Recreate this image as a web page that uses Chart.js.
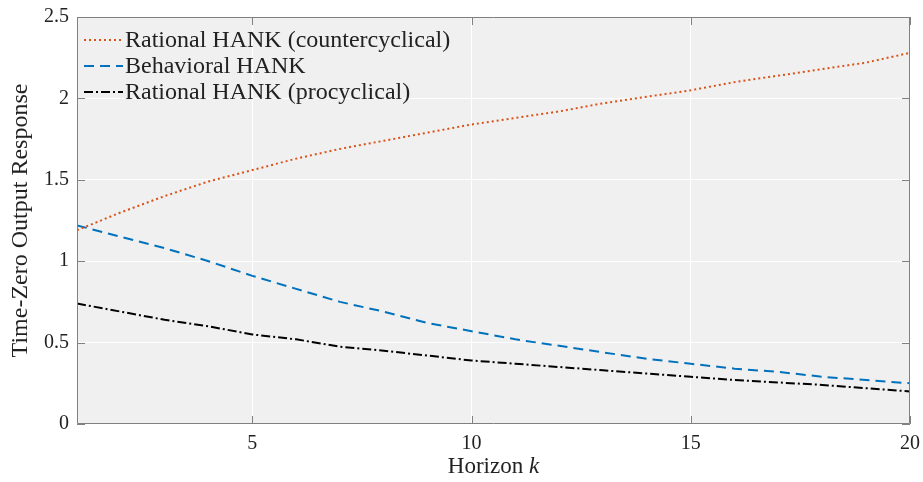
<!DOCTYPE html>
<html>
<head>
<meta charset="utf-8">
<script src="https://cdn.jsdelivr.net/npm/chart.js@4/dist/chart.umd.min.js"></script>
<style>
  html, body { margin: 0; padding: 0; background: #fff; }
  #wrap { width: 923px; height: 482px; }
</style>
</head>
<body>
<div id="wrap"><canvas id="chart"></canvas></div>
<script>
// horizons k = 1..20
const horizons = [1, 2, 3, 4, 5, 6, 7, 8, 9, 10, 11, 12, 13, 14, 15, 16, 17, 18, 19, 20];
const counterVals = [1.19, 1.30, 1.40, 1.49, 1.56, 1.63, 1.69, 1.74, 1.79, 1.84, 1.88, 1.92, 1.97, 2.01, 2.05, 2.10, 2.14, 2.18, 2.22, 2.28];
const behavVals = [1.22, 1.15, 1.08, 1.00, 0.91, 0.83, 0.75, 0.69, 0.62, 0.57, 0.52, 0.48, 0.44, 0.40, 0.37, 0.34, 0.32, 0.29, 0.27, 0.25];
const procVals = [0.74, 0.69, 0.64, 0.60, 0.55, 0.52, 0.475, 0.45, 0.42, 0.39, 0.37, 0.35, 0.33, 0.31, 0.29, 0.27, 0.255, 0.24, 0.22, 0.20];
const xTicks = [5, 10, 15, 20];
const yTicks = [0, 0.5, 1, 1.5, 2, 2.5];

const serif = '"Liberation Serif", "DejaVu Serif", serif';
const axisGray = '#808080';

function pts(vals) {
  return horizons.map((k, i) => ({ x: k, y: vals[i] }));
}

const series = [
  { label: 'Rational HANK (countercyclical)', data: pts(counterVals), color: '#D95319', dash: [2, 3] },
  { label: 'Behavioral HANK', data: pts(behavVals), color: '#0072BD', dash: [10, 6] },
  { label: 'Rational HANK (procyclical)', data: pts(procVals), color: '#000000', dash: [9, 3, 2, 3] }
];

// grey plot background
const bgPlugin = {
  id: 'bg',
  beforeDraw(chart) {
    const { ctx, chartArea: a } = chart;
    ctx.save();
    ctx.fillStyle = '#f0f0f0';
    ctx.fillRect(a.left, a.top, a.right - a.left, a.bottom - a.top);
    ctx.restore();
  }
};

// box, inward ticks, legend, x title with italic k
const decorPlugin = {
  id: 'decor',
  afterDatasetsDraw(chart) {
    const { ctx, chartArea: a, scales } = chart;
    ctx.save();
    ctx.strokeStyle = axisGray;
    ctx.lineWidth = 1;
    ctx.beginPath();
    ctx.rect(a.left + 0.5, a.top + 0.5, a.right - a.left - 1, a.bottom - a.top - 1);
    ctx.stroke();
    const tl = 8;
    ctx.beginPath();
    xTicks.forEach(v => {
      const x = Math.round(scales.x.getPixelForValue(v)) + 0.5;
      ctx.moveTo(x, a.bottom); ctx.lineTo(x, a.bottom - tl);
      ctx.moveTo(x, a.top); ctx.lineTo(x, a.top + tl);
    });
    yTicks.forEach(v => {
      const y = Math.round(scales.y.getPixelForValue(v)) + 0.5;
      ctx.moveTo(a.left, y); ctx.lineTo(a.left + tl, y);
      ctx.moveTo(a.right, y); ctx.lineTo(a.right - tl, y);
    });
    ctx.stroke();

    // legend
    ctx.font = '24px ' + serif;
    ctx.textBaseline = 'middle';
    ctx.fillStyle = '#222';
    chart.data.datasets.forEach((ds, i) => {
      const y = a.top + 23 + i * 26;
      ctx.strokeStyle = ds.borderColor;
      ctx.lineWidth = 2;
      ctx.setLineDash(ds.borderDash);
      ctx.beginPath();
      ctx.moveTo(a.left + 7, y);
      ctx.lineTo(a.left + 46, y);
      ctx.stroke();
      ctx.setLineDash([]);
      ctx.fillText(ds.label, a.left + 48, y + 1);
    });

    // x title
    const cx = (a.left + a.right) / 2;
    const ty = 467;
    ctx.font = '23px ' + serif;
    const w1 = ctx.measureText('Horizon ').width;
    ctx.font = 'italic 23px ' + serif;
    const w2 = ctx.measureText('k').width;
    const x0 = cx - (w1 + w2) / 2;
    ctx.textAlign = 'left';
    ctx.fillStyle = '#222';
    ctx.font = '23px ' + serif;
    ctx.fillText('Horizon ', x0, ty);
    ctx.font = 'italic 23px ' + serif;
    ctx.fillText('k', x0 + w1, ty);
    ctx.restore();
  }
};

new Chart(document.getElementById('chart'), {
  type: 'line',
  data: {
    datasets: series.map(s => ({
      label: s.label,
      data: s.data,
      borderColor: s.color,
      backgroundColor: s.color,
      borderDash: s.dash,
      borderWidth: 2,
      pointRadius: 0,
      tension: 0,
      fill: false
    }))
  },
  options: {
    responsive: true,
    maintainAspectRatio: false,
    animation: false,
    layout: { padding: { left: 6, right: 13, top: 17, bottom: 0 } },
    plugins: { legend: { display: false }, tooltip: { enabled: false } },
    scales: {
      x: {
        type: 'linear',
        min: 1,
        max: 20,
        afterBuildTicks(scale) { scale.ticks = xTicks.map(v => ({ value: v })); },
        afterFit(scale) { scale.height = 58; scale.paddingLeft = 0; scale.paddingRight = 0; },
        grid: { color: '#ffffff', lineWidth: 1, drawTicks: false },
        border: { display: false },
        ticks: { color: '#222', font: { family: serif, size: 20 }, padding: 8, maxRotation: 0 }
      },
      y: {
        type: 'linear',
        min: 0,
        max: 2.5,
        afterBuildTicks(scale) { scale.ticks = yTicks.map(v => ({ value: v })); },
        afterFit(scale) { scale.width = 71; scale.paddingTop = 0; scale.paddingBottom = 0; },
        grid: { color: '#ffffff', lineWidth: 1, drawTicks: false },
        border: { display: false },
        ticks: { color: '#222', font: { family: serif, size: 20 }, padding: 8, callback: v => String(v) },
        title: {
          display: true,
          text: 'Time-Zero Output Response',
          color: '#222',
          font: { family: serif, size: 24 },
          padding: { top: 0, bottom: 2 }
        }
      }
    }
  },
  plugins: [bgPlugin, decorPlugin]
});
</script>
</body>
</html>
